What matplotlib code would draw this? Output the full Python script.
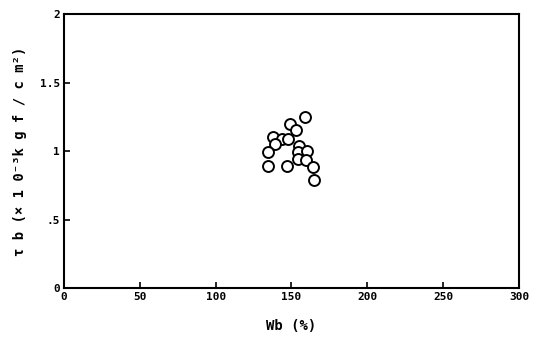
import matplotlib
matplotlib.use('Agg')
import matplotlib.pyplot as plt

# Wb (%) vs tau_b (x10^-3 kgf/cm^2)
wb = [159, 149, 153, 137.5, 144, 148, 139, 134.5, 155, 154.5, 160, 154,
      159.5, 134.5, 147, 164, 165]
tau_b = [1.25, 1.20, 1.15, 1.10, 1.09, 1.09, 1.05, 0.99, 1.04, 0.99, 1.00,
         0.94, 0.935, 0.89, 0.89, 0.885, 0.79]

x_ticks = [0, 50, 100, 150, 200, 250, 300]
x_labels = ['0', '50', '100', '150', '200', '250', '300']
y_ticks = [0, 0.5, 1, 1.5, 2]
y_labels = ['0', '.5', '1', '1.5', '2']

plt.rcParams['font.family'] = ['DejaVu Sans Mono', 'DejaVu Sans']
fig = plt.figure(figsize=(5.4, 3.41), dpi=100)
ax = fig.add_axes([0.1185, 0.1554, 0.8426, 0.8035])

ax.scatter(wb, tau_b, s=62, facecolors='white', edgecolors='black',
           linewidths=1.4, zorder=3)

ax.set_xlim(0, 300)
ax.set_ylim(0, 2)
ax.set_xticks(x_ticks)
ax.set_xticklabels(x_labels)
ax.set_yticks(y_ticks)
ax.set_yticklabels(y_labels)
ax.tick_params(direction='in', length=4, width=1.2, labelsize=8, pad=3)
for lbl in ax.get_xticklabels() + ax.get_yticklabels():
    lbl.set_fontweight('bold')
for sp in ax.spines.values():
    sp.set_linewidth(1.5)

ax.set_xlabel('Wb (%)', fontsize=10, fontweight='bold', labelpad=12)
ax.set_ylabel('τ b (× 1 0⁻³k g f / c m²)', fontsize=10, fontweight='bold',
              labelpad=9)

fig.savefig('out.png', dpi=100)
